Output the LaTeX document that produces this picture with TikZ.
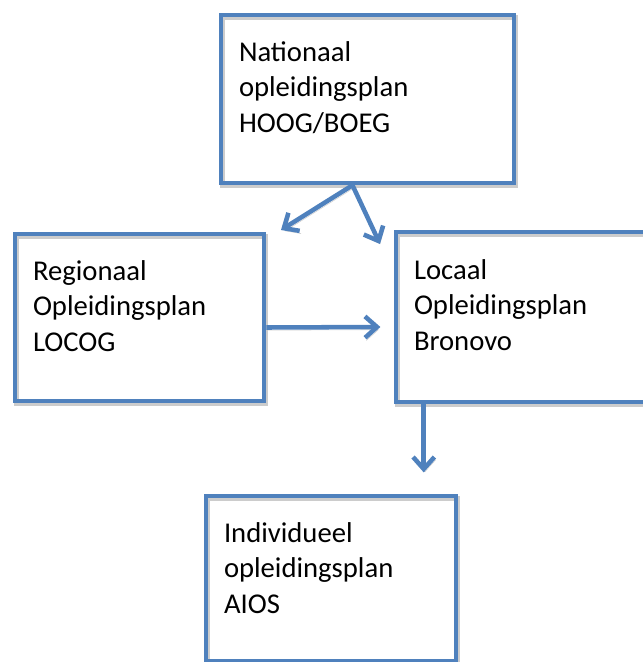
\documentclass[tikz,border=0pt]{standalone}
\usepackage{fontspec}
\setmainfont{Carlito}
\usetikzlibrary{arrows.meta,positioning}
\definecolor{planblue}{HTML}{4F81BD}
\begin{document}
\begin{tikzpicture}[x=0.75pt,y=-0.75pt,>={Straight Barb[length=9pt,width=16pt]},
    shade/.style={preaction={draw=black!20,transform canvas={shift={(1pt,-2pt)}}}},
    plan/.style={draw=planblue,line width=3.4pt,shade},
    plantext/.style={anchor=base west,align=left,inner sep=0pt,font=\fontsize{21.5}{26.6}\selectfont},
    flow/.style={draw=planblue,line width=3.4pt,->,shade}]
\useasboundingbox (0,0) rectangle (643,662);
\clip (0,0) rectangle (643,662);
% boxes
\node[plan,minimum width=219.75pt,minimum height=126pt] (nat) at (367.5,99) {};
\node[plan,minimum width=186.75pt,minimum height=125.25pt] (reg) at (139.5,317.5) {};
\node[plan,minimum width=213pt,minimum height=127.5pt] (loc) at (538,317) {};
\node[plan,minimum width=187.5pt,minimum height=123.75pt] (ind) at (331,578.5) {};
\node[plantext] (nattext) at ([shift={(15pt,-89.5pt)}]nat.north west) {Nationaal\\opleidingsplan\\HOOG/BOEG};
\node[plantext] (regtext) at ([shift={(15pt,-89.5pt)}]reg.north west) {Regionaal\\Opleidingsplan\\LOCOG};
\node[plantext] (loctext) at ([shift={(15pt,-90.5pt)}]loc.north west) {Locaal\\Opleidingsplan\\Bronovo};
\node[plantext] (indtext) at ([shift={(15pt,-89.5pt)}]ind.north west) {Individueel\\opleidingsplan\\AIOS};
% arrows
\coordinate (fork) at ([xshift=-11.25pt]nat.south);
\coordinate (regin) at (281,230);
\coordinate (locin) at (380,244);
\coordinate (locout) at ([xshift=22.5pt]loc.south west);
\draw[flow] (fork) -- (regin);
\draw[flow] (fork) -- (locin);
\draw[flow] ([yshift=-7.5pt]reg.east) -- ([xshift=-10pt,yshift=-7.5pt]loc.west);
\draw[flow,shorten >=16pt] (locout) -- (locout |- ind.north);
\end{tikzpicture}
\end{document}
